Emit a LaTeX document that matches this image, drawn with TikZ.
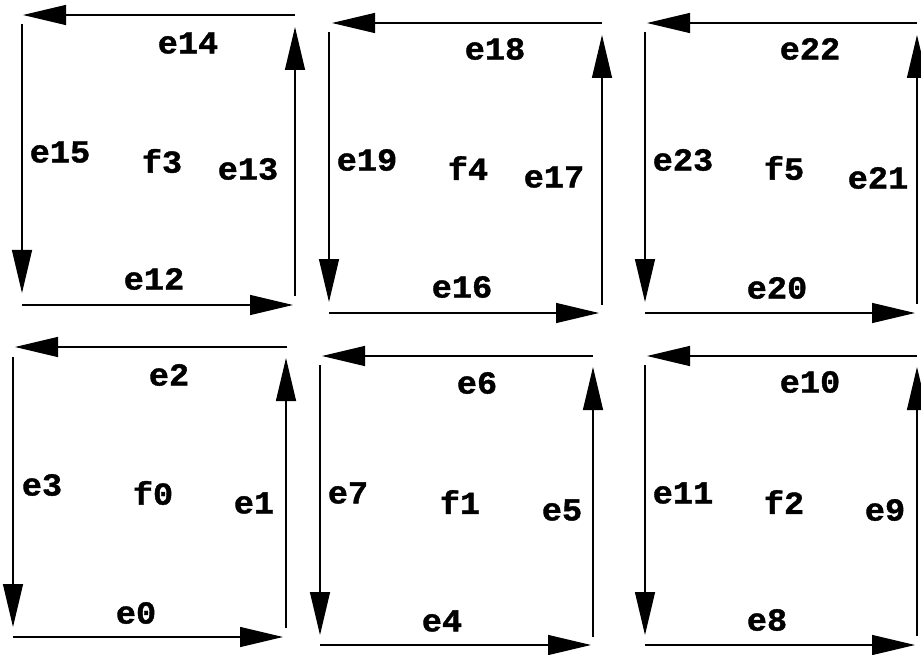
\documentclass[tikz,border=0pt]{standalone}
\usepackage{fontspec}
\newfontfamily\lblfont[FakeStretch=1.05,FakeBold=1.2]{Liberation Mono}
\usetikzlibrary{arrows.meta}
\tikzset{
  edge/.style={line width=1.3pt, -{Triangle[length=43pt,width=20pt]}},
  lbl/.style={font=\lblfont\bfseries\fontsize{32}{32}\selectfont, inner sep=0pt}
}
\begin{document}
\begin{tikzpicture}[x=1pt,y=-1pt]
\useasboundingbox (0,0) rectangle (921,655);
% ---- f3 ----
\coordinate (s12) at (22,305); \coordinate (t12) at (293,305);
\coordinate (s13) at (295,296); \coordinate (t13) at (295,27);
\coordinate (s14) at (295,15); \coordinate (t14) at (23,15);
\coordinate (s15) at (22,24); \coordinate (t15) at (22,293);
% ---- f4 ----
\coordinate (s16) at (329,313); \coordinate (t16) at (599,313);
\coordinate (s17) at (602,305); \coordinate (t17) at (602,35);
\coordinate (s18) at (602,23); \coordinate (t18) at (332,23);
\coordinate (s19) at (329,32); \coordinate (t19) at (329,302);
% ---- f5 ----
\coordinate (s20) at (645,313); \coordinate (t20) at (915,313);
\coordinate (s21) at (917,304); \coordinate (t21) at (917,35);
\coordinate (s22) at (917,23); \coordinate (t22) at (647,23);
\coordinate (s23) at (645,32); \coordinate (t23) at (645,302);
% ---- f0 ----
\coordinate (s0) at (13,637); \coordinate (t0) at (283,637);
\coordinate (s1) at (286,628); \coordinate (t1) at (286,358);
\coordinate (s2) at (287,347); \coordinate (t2) at (15,347);
\coordinate (s3) at (13,357); \coordinate (t3) at (13,627);
% ---- f1 ----
\coordinate (s4) at (320,645); \coordinate (t4) at (591,645);
\coordinate (s5) at (593,637); \coordinate (t5) at (593,367);
\coordinate (s6) at (593,356); \coordinate (t6) at (322,356);
\coordinate (s7) at (320,365); \coordinate (t7) at (320,635);
% ---- f2 ----
\coordinate (s8) at (645,645); \coordinate (t8) at (915,645);
\coordinate (s9) at (917,636); \coordinate (t9) at (917,367);
\coordinate (s10) at (917,356); \coordinate (t10) at (647,356);
\coordinate (s11) at (645,365); \coordinate (t11) at (645,635);
\foreach \i in {0,...,23} { \draw[edge] (s\i) -- (t\i); }
% labels
\node[lbl] (l14) at (188,43) {e14};
\node[lbl] (l15) at (60,152) {e15};
\node[lbl] (lf3) at (162,161) {f3};
\node[lbl] (l13) at (248,169) {e13};
\node[lbl] (l12) at (154,279) {e12};
\node[lbl] (l18) at (495,49) {e18};
\node[lbl] (l19) at (367,160) {e19};
\node[lbl] (lf4) at (468,168) {f4};
\node[lbl] (l17) at (554,177) {e17};
\node[lbl] (l16) at (462,287) {e16};
\node[lbl] (l22) at (810,49) {e22};
\node[lbl] (l23) at (683,160) {e23};
\node[lbl] (lf5) at (784,168) {f5};
\node[lbl] (l21) at (878,178) {e21};
\node[lbl] (l20) at (777,288) {e20};
\node[lbl] (l2) at (169,375) {e2};
\node[lbl] (l3) at (42,485) {e3};
\node[lbl] (lf0) at (153,493) {f0};
\node[lbl] (l1) at (254,503) {e1};
\node[lbl] (l0) at (136,613) {e0};
\node[lbl] (l6) at (477,383) {e6};
\node[lbl] (l7) at (348,493) {e7};
\node[lbl] (lf1) at (460,502) {f1};
\node[lbl] (l5) at (562,510) {e5};
\node[lbl] (l4) at (442,621) {e4};
\node[lbl] (l10) at (810,382) {e10};
\node[lbl] (l11) at (683,493) {e11};
\node[lbl] (lf2) at (784,502) {f2};
\node[lbl] (l9) at (885,510) {e9};
\node[lbl] (l8) at (767,620) {e8};
\end{tikzpicture}
\end{document}
